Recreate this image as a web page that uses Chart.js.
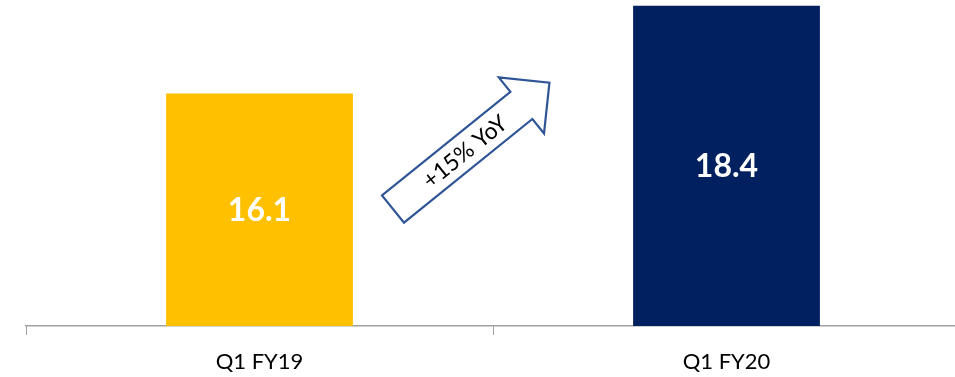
<!DOCTYPE html>
<html>
<head>
<meta charset="utf-8">
<script src="https://cdn.jsdelivr.net/npm/chart.js@4"></script>
<style>
  html, body { margin: 0; padding: 0; background: #fff; overflow: hidden; }
  #wrap { width: 960px; height: 377px; }
</style>
</head>
<body>
<div id="wrap"><canvas id="growth"></canvas></div>
<script>
const quarters = ['Q1 FY19', 'Q1 FY20'];
const revenue = [16.1, 18.4];
const barColors = ['#FFC000', '#002060'];
const growthText = '+15% YoY';

// white value labels in the middle of each bar
const valueLabels = {
  id: 'valueLabels',
  afterDatasetsDraw(chart) {
    const c = chart.ctx;
    const meta = chart.getDatasetMeta(0);
    const bottom = chart.chartArea.bottom;
    c.save();
    c.fillStyle = '#fff';
    c.font = 'bold 32px Lato';
    c.textAlign = 'center';
    c.textBaseline = 'middle';
    meta.data.forEach((bar, i) => {
      const mid = (bar.y + bottom) / 2;
      c.fillText(revenue[i].toFixed(1), bar.x, mid + 1);
    });
    c.restore();
  }
};

// hollow arrow between the bars, drawn from its tail
const growthArrow = {
  id: 'growthArrow',
  afterDraw(chart) {
    const c = chart.ctx;
    const meta = chart.getDatasetMeta(0);
    const tx = (meta.data[0].x + meta.data[1].x) / 2 - 100;
    const ty = chart.scales.y.getPixelForValue(13.07);
    const ang = -38.9 * Math.PI / 180;
    const pts = [
      [0, -17.5], [165, -17.5], [165, -36], [201, 0],
      [165, 36], [165, 17.5], [0, 17.5]
    ];
    c.save();
    c.translate(tx, ty);
    c.rotate(ang);
    c.beginPath();
    pts.forEach((p, i) => i ? c.lineTo(p[0], p[1]) : c.moveTo(p[0], p[1]));
    c.closePath();
    c.fillStyle = '#fff';
    c.fill();
    c.lineWidth = 2.2;
    c.strokeStyle = '#2F5597';
    c.stroke();
    c.fillStyle = '#000';
    c.font = '23px Lato';
    c.textAlign = 'center';
    c.textBaseline = 'middle';
    c.fillText(growthText, 92, 1);
    c.restore();
  }
};

new Chart(document.getElementById('growth'), {
  type: 'bar',
  data: {
    labels: quarters,
    datasets: [{
      data: revenue,
      backgroundColor: barColors,
      borderWidth: 0,
      barPercentage: 0.4,
      categoryPercentage: 1
    }]
  },
  options: {
    responsive: true,
    maintainAspectRatio: false,
    animation: false,
    layout: { padding: { left: 26, right: 0, top: 2, bottom: 2 } },
    plugins: { legend: { display: false }, tooltip: { enabled: false } },
    scales: {
      x: {
        afterFit(scale) { scale.height = 49; },
        grid: { drawOnChartArea: false, color: '#A0A0A0', tickLength: 9, lineWidth: 1 },
        border: { color: '#A0A0A0', width: 1.5 },
        ticks: { color: '#000', font: { family: 'Lato', size: 22 }, padding: 14 }
      },
      y: {
        display: false,
        min: 10,
        max: 18.5
      }
    }
  },
  plugins: [valueLabels, growthArrow]
});
</script>
</body>
</html>
